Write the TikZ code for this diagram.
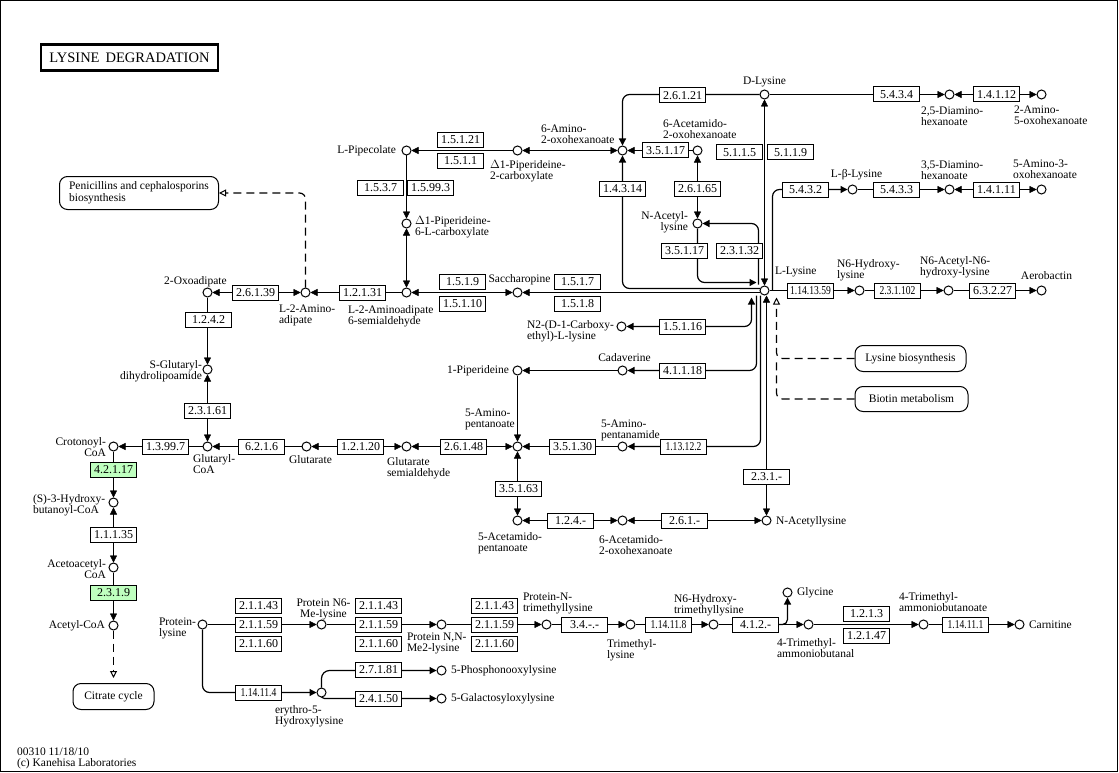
\documentclass[tikz,border=0pt]{standalone}
\usepackage{fontspec}
\setmainfont{Liberation Serif}
\usepackage{graphicx}
\usetikzlibrary{arrows.meta,calc}
\definecolor{kgreen}{HTML}{BFFFBF}
\pgfdeclarelayer{bg}
\pgfsetlayers{bg,main}
\newcommand\sq[1]{\scalebox{0.8}[1]{#1}}
\begin{document}
\begin{tikzpicture}[x=1pt,y=-1pt, line width=1pt, >={Triangle[length=7pt,width=7pt]},
 cpd/.style={circle,draw,fill=white,minimum size=9pt,inner sep=0pt},
 ec/.style={draw,fill=white,minimum width=46pt,minimum height=15pt,inner sep=0pt,font=\fontsize{12}{12}\selectfont},
 ecg/.style={ec,fill=kgreen},
 lbl/.style={inner sep=0pt,font=\fontsize{11.5}{11}\selectfont},
 mapbox/.style={draw,fill=white,rounded corners=8pt,inner sep=0pt,font=\fontsize{11.5}{12}\selectfont},
 link/.style={line width=1.2pt,dash pattern=on 8pt off 5pt, rounded corners=6pt},
 opn/.style={-{Triangle[open,length=7pt,width=7pt,line width=1pt]}},
 conn/.style={rounded corners=7pt,line width=1.2pt}]
\useasboundingbox (0,0) rectangle (1119,773);
\draw (0.5,0.5) rectangle (1117.5,771.5);
\begin{scope}[shift={(0.5,0.5)}]
\node[draw,line width=2.5pt,minimum width=177pt,minimum height=26pt,inner sep=0pt,font=\fontsize{14.5}{14}\selectfont] (title) at (129,57) {LYSINE\hspace{6pt}DEGRADATION};
% compounds
\node[cpd] (lpip) at (406,150) {};
\node[cpd] (p2c) at (517,150) {};
\node[cpd] (a2o) at (622,150) {};
\node[cpd] (ac2o) at (697,150) {};
\node[cpd] (nacl) at (697,223) {};
\node[cpd] (dlys) at (764,94) {};
\node[cpd] (dah25) at (949,94) {};
\node[cpd] (ao25) at (1041,94) {};
\node[cpd] (blys) at (852,189) {};
\node[cpd] (dah35) at (949,189) {};
\node[cpd] (ao53) at (1041,189) {};
\node[cpd] (p6c) at (406,223) {};
\node[cpd] (oxo) at (207,292) {};
\node[cpd] (l2a) at (305,292) {};
\node[cpd] (l2as) at (406,292) {};
\node[cpd] (sac) at (517,292) {};
\node[cpd] (llys) at (764,290) {};
\node[cpd] (n6h) at (859,290) {};
\node[cpd] (n6a) at (948,290) {};
\node[cpd] (aer) at (1041,290) {};
\node[cpd] (n2c) at (621,326) {};
\node[cpd] (pip1) at (517,370) {};
\node[cpd] (cad) at (622,370) {};
\node[cpd] (sgd) at (207,369) {};
\node[cpd] (glc) at (207,446) {};
\node[cpd] (cro) at (113,446) {};
\node[cpd] (glt) at (306,446) {};
\node[cpd] (gsa) at (406,446) {};
\node[cpd] (apn) at (517,446) {};
\node[cpd] (apm) at (622,446) {};
\node[cpd] (acp) at (517,520) {};
\node[cpd] (ac2ob) at (622,520) {};
\node[cpd] (nacly) at (766,520) {};
\node[cpd] (hbc) at (113,502) {};
\node[cpd] (aac) at (113,567) {};
\node[cpd] (acoa) at (113,625) {};
\node[cpd] (plys) at (202,624) {};
\node[cpd] (pn6) at (321,624) {};
\node[cpd] (pnn) at (441,624) {};
\node[cpd] (pnt) at (546,624) {};
\node[cpd] (tml) at (630,624) {};
\node[cpd] (n6ht) at (713,624) {};
\node[cpd] (gly) at (787,592) {};
\node[cpd] (tmab) at (808,624) {};
\node[cpd] (tmabo) at (923,624) {};
\node[cpd] (car) at (1019,624) {};
\node[cpd] (ery) at (321,692) {};
\node[cpd] (phos) at (441,670) {};
\node[cpd] (gal) at (441,698) {};
% free ends
\coordinate (c1517) at (759.5,292);
\coordinate (c1312) at (760,295);
\coordinate (c1516) at (751,297);
\coordinate (c4118) at (756,295);
\coordinate (c2313) at (766,295);
\coordinate (c5432) at (772,290);
\coordinate (c14314) at (759.5,288);
\coordinate (c23132) at (758,284);
\coordinate (c35117) at (756,282);
\coordinate (clb) at (776,297);
\coordinate (clb2) at (776,358);
\coordinate (cgly) at (778,624);
% enzymes
\node[ec] (e15121) at (460,139.5) {1.5.1.21};
\node[ec] (e1511) at (460,160.5) {1.5.1.1};
\node[ec] (e1537) at (380,187) {1.5.3.7};
\node[ec] (e15993) at (430,187) {1.5.99.3};
\node[ec] (e26121) at (682,95) {2.6.1.21};
\node[ec] (e35117a) at (665,150) {3.5.1.17};
\node[ec] (e14314) at (622,188) {1.4.3.14};
\node[ec] (e26165) at (697,188) {2.6.1.65};
\node[ec] (e35117b) at (684,250) {3.5.1.17};
\node[ec] (e23132) at (739,250) {2.3.1.32};
\node[ec] (e5115) at (739,152) {5.1.1.5};
\node[ec] (e5119) at (790,152) {5.1.1.9};
\node[ec] (e5434) at (896,94) {5.4.3.4};
\node[ec] (e14112) at (996,94) {1.4.1.12};
\node[ec] (e5432) at (805,189) {5.4.3.2};
\node[ec] (e5433) at (896,189) {5.4.3.3};
\node[ec] (e14111) at (996,189) {1.4.1.11};
\node[ec] (e26139) at (255,292) {2.6.1.39};
\node[ec] (e1242) at (208,319) {1.2.4.2};
\node[ec] (e12131) at (362,292) {1.2.1.31};
\node[ec] (e1519) at (462,281) {1.5.1.9};
\node[ec] (e15110) at (462,303) {1.5.1.10};
\node[ec] (e1517) at (577,281) {1.5.1.7};
\node[ec] (e1518) at (577,303) {1.5.1.8};
\node[ec] (e1141359) at (810,290) {\sq{1.14.13.59}};
\node[ec] (e231102) at (897,290) {\sq{2.3.1.102}};
\node[ec] (e63227) at (992,290) {6.3.2.27};
\node[ec] (e15116) at (682,326) {1.5.1.16};
\node[ec] (e41118) at (682,370) {4.1.1.18};
\node[ec] (e23161) at (207,410) {2.3.1.61};
\node[ec] (e13997) at (165,446) {1.3.99.7};
\node[ec] (e6216) at (261,446) {6.2.1.6};
\node[ec] (e12120) at (360,446) {1.2.1.20};
\node[ec] (e26148) at (463,446) {2.6.1.48};
\node[ec] (e35130) at (572,446) {3.5.1.30};
\node[ec] (e113122) at (683,446) {\sq{1.13.12.2}};
\node[ec] (e231x) at (766,476) {2.3.1.-};
\node[ec] (e35163) at (518,488) {3.5.1.63};
\node[ec] (e124x) at (570,520) {1.2.4.-};
\node[ec] (e261x) at (684,520) {2.6.1.-};
\node[ecg] (e42117) at (113,469) {4.2.1.17};
\node[ec] (e11135) at (113,534) {1.1.1.35};
\node[ecg] (e2319) at (113,592) {2.3.1.9};
\node[ec] (e21143a) at (258,605) {2.1.1.43};
\node[ec] (e21159a) at (258,624) {2.1.1.59};
\node[ec] (e21160a) at (258,643) {2.1.1.60};
\node[ec] (e21143b) at (378,605) {2.1.1.43};
\node[ec] (e21159b) at (378,624) {2.1.1.59};
\node[ec] (e21160b) at (378,643) {2.1.1.60};
\node[ec] (e21143c) at (494,605) {2.1.1.43};
\node[ec] (e21159c) at (494,624) {2.1.1.59};
\node[ec] (e21160c) at (494,643) {2.1.1.60};
\node[ec] (e34xx) at (584,624) {3.4.-.-};
\node[ec] (e114118) at (668,624) {\sq{1.14.11.8}};
\node[ec] (e412x) at (755,624) {4.1.2.-};
\node[ec] (e1213) at (866,613) {1.2.1.3};
\node[ec] (e12147) at (866,635) {1.2.1.47};
\node[ec] (e114111) at (965,624) {\sq{1.14.11.1}};
\node[ec] (e114114) at (258,692) {\sq{1.14.11.4}};
\node[ec] (e27181) at (378,669) {2.7.1.81};
\node[ec] (e24150) at (378,698) {2.4.1.50};
% maps
\node[mapbox,minimum width=159pt,minimum height=33pt,align=left] (mpen) at (138.5,192.5) {Penicillins and cephalosporins\\biosynthesis};
\node[mapbox,minimum width=111pt,minimum height=26pt] (mlys) at (910,358) {Lysine biosynthesis};
\node[mapbox,minimum width=113pt,minimum height=25pt] (mbio) at (911,398.5) {Biotin metabolism};
\node[mapbox,minimum width=81pt,minimum height=26pt] (mcit) at (113,696) {Citrate cycle};
% labels
\node[lbl,anchor=east] (lpipl) at (396,150) {L-Pipecolate};
\node[lbl,anchor=north west,align=left] (p2cl) at (489,159.5) {$\Delta$1-Piperideine-\\2-carboxylate};
\node[lbl,anchor=north west,align=left] (a2ol) at (540,123.5) {6-Amino-\\2-oxohexanoate};
\node[lbl,anchor=north west,align=left] (ac2ol) at (662,118.5) {6-Acetamido-\\2-oxohexanoate};
\node[lbl,anchor=north east,align=right] (nacll) at (688,210.5) {N-Acetyl-\\lysine};
\node[lbl] (dlysl) at (764,81) {D-Lysine};
\node[lbl,anchor=north west,align=left] (dah25l) at (920,105.5) {2,5-Diamino-\\hexanoate};
\node[lbl,anchor=north west,align=left] (ao25l) at (1013,104.5) {2-Amino-\\5-oxohexanoate};
\node[lbl] (blysl) at (856,174) {L-β-Lysine};
\node[lbl,anchor=north west,align=left] (dah35l) at (920,159.5) {3,5-Diamino-\\hexanoate};
\node[lbl,anchor=north west,align=left] (ao53l) at (1012,158.5) {5-Amino-3-\\oxohexanoate};
\node[lbl,anchor=north west,align=left] (p6cl) at (414,215.5) {$\Delta$1-Piperideine-\\6-L-carboxylate};
\node[lbl] (oxol) at (195,281) {2-Oxoadipate};
\node[lbl,anchor=north west,align=left] (l2al) at (278,303.5) {L-2-Amino-\\adipate};
\node[lbl,anchor=north west,align=left] (l2asl) at (347,304.5) {L-2-Aminoadipate\\6-semialdehyde};
\node[lbl] (sacl) at (519,279) {Saccharopine};
\node[lbl,anchor=west] (llysl) at (774,271) {L-Lysine};
\node[lbl,anchor=north west,align=left] (n6hl) at (836,258.5) {N6-Hydroxy-\\lysine};
\node[lbl,anchor=north west,align=left] (n6al) at (919,256) {N6-Acetyl-N6-\\hydroxy-lysine};
\node[lbl] (aerl) at (1046,275) {Aerobactin};
\node[lbl,anchor=north west,align=left] (n2cl) at (526,319.5) {N2-(D-1-Carboxy-\\ethyl)-L-lysine};
\node[lbl,anchor=east] (pip1l) at (509,370) {1-Piperideine};
\node[lbl] (cadl) at (624,357) {Cadaverine};
\node[lbl,anchor=north east,align=right] (sgdl) at (202,359.5) {S-Glutaryl-\\dihydrolipoamide};
\node[lbl,anchor=north west,align=left] (glcl) at (192,453.5) {Glutaryl-\\CoA};
\node[lbl,anchor=north east,align=right] (crol) at (106,436.5) {Crotonoyl-\\CoA};
\node[lbl] (gltl) at (310,459) {Glutarate};
\node[lbl,anchor=north west,align=left] (gsal) at (386,456.5) {Glutarate\\semialdehyde};
\node[lbl,anchor=north west,align=left] (apnl) at (464,407.5) {5-Amino-\\pentanoate};
\node[lbl,anchor=north west,align=left] (apml) at (600,418.5) {5-Amino-\\pentanamide};
\node[lbl,anchor=north west,align=left] (acpl) at (477,531.5) {5-Acetamido-\\pentanoate};
\node[lbl,anchor=north west,align=left] (ac2obl) at (598,534.5) {6-Acetamido-\\2-oxohexanoate};
\node[lbl,anchor=west] (naclyl) at (775,521) {N-Acetyllysine};
\node[lbl,anchor=north west,align=left] (hbcl) at (32,493.5) {(S)-3-Hydroxy-\\butanoyl-CoA};
\node[lbl,anchor=north east,align=right] (aacl) at (106,558.5) {Acetoacetyl-\\CoA};
\node[lbl,anchor=east] (acoal) at (105,625) {Acetyl-CoA};
\node[lbl,anchor=north west,align=left] (plysl) at (158,616.5) {Protein-\\lysine};
\node[lbl,anchor=north,align=center] (pn6l) at (323,597.5) {Protein N6-\\Me-lysine};
\node[lbl,anchor=north west,align=left] (pnnl) at (406,631.5) {Protein N,N-\\Me2-lysine};
\node[lbl,anchor=north west,align=left] (pntl) at (522,591.5) {Protein-N-\\trimethyllysine};
\node[lbl,anchor=north west,align=left] (tmll) at (606,638.5) {Trimethyl-\\lysine};
\node[lbl,anchor=north west,align=left] (n6htl) at (673,593.5) {N6-Hydroxy-\\trimethyllysine};
\node[lbl,anchor=west] (glyl) at (796,592) {Glycine};
\node[lbl,anchor=north west,align=left] (tmabl) at (776,637.5) {4-Trimethyl-\\ammoniobutanal};
\node[lbl,anchor=north west,align=left] (tmabol) at (898,591.5) {4-Trimethyl-\\ammoniobutanoate};
\node[lbl,anchor=west] (carl) at (1028,624) {Carnitine};
\node[lbl,anchor=north west,align=left] (eryl) at (274,704.5) {erythro-5-\\Hydroxylysine};
\node[lbl,anchor=west] (phosl) at (450,670) {5-Phosphonooxylysine};
\node[lbl,anchor=west] (gall) at (450,698) {5-Galactosyloxylysine};
\node[lbl,anchor=north west,align=left] (foot) at (16,746.5) {00310 11/18/10\\(c) Kanehisa Laboratories};
% connectors
\begin{pgfonlayer}{bg}
\draw[->] (p2c) -- (lpip);
\draw[<->] (p2c) -- (a2o);
\draw[->] (lpip) -- (p6c);
\draw[<->] (p6c) -- (l2as);
\draw[<->] (sac) -- (l2as);
\draw[->] (c1517) -- (sac);
\draw[->] (l2as) -- (l2a);
\draw[<->] (oxo) -- (l2a);
\draw[->] (oxo) -- (sgd);
\draw[<->] (sgd) -- (glc);
\draw[->] (glc) -- (cro);
\draw[->] (glt) -- (glc);
\draw[<->] (gsa) -- (glt);
\draw[<->] (apn) -- (gsa);
\draw[->] (apm) -- (apn);
\draw[->,conn] (c1312) |- (apm);
\draw[<->,conn] (c1516) |- (n2c);
\draw[->,conn] (c4118) |- (cad);
\draw[->] (cad) -- (pip1);
\draw[->] (pip1) -- (apn);
\draw[<->] (apn) -- (acp);
\draw[<->] (ac2ob) -- (acp);
\draw[<->] (nacly) -- (ac2ob);
\draw[<->] (c2313) -- (nacly);
\draw[->] (llys) -- (n6h);
\draw[->] (n6h) -- (n6a);
\draw[->] (n6a) -- (aer);
\draw[->,conn] (c5432) |- (blys);
\draw[->] (blys) -- (dah35);
\draw[<->] (dah35) -- (ao53);
\draw[->] (dlys) -- (dah25);
\draw[<->] (dah25) -- (ao25);
\draw[<->] (llys) -- (dlys);
\draw[->,conn] (dlys) -| (a2o);
\draw[->] (ac2o) -- (a2o);
\draw[<->] (nacl) -- (ac2o);
\draw[->,conn] (c14314) -| (a2o);
\draw[->,conn] (c23132) |- (nacl);
\draw[->,conn] (nacl) |- (c35117);
\draw[link,opn] (l2a) |- (mpen);
\draw[link,opn] (mlys) -| (clb);
\draw[link] (mbio) -| (clb2);
\draw[link,opn,shorten >=5pt] (acoa) -- (mcit);
\draw[->] (cro) -- (hbc);
\draw[<->] (hbc) -- (aac);
\draw[->] (aac) -- (acoa);
\draw[->] (plys) -- (pn6);
\draw[->] (pn6) -- (pnn);
\draw[->] (pnn) -- (pnt);
\draw[->] (pnt) -- (tml);
\draw[->] (tml) -- (n6ht);
\draw[->] (n6ht) -- (tmab);
\draw[->,conn,rounded corners=5pt] (cgly) -| (gly);
\draw[->] (tmab) -- (tmabo);
\draw[->] (tmabo) -- (car);
\draw[->,conn] (plys) |- (ery);
\draw[->,conn,rounded corners=8pt] (ery.north) |- (phos);
\draw[->,conn,rounded corners=3pt] (ery.south) |- (gal);
\end{pgfonlayer}
\end{scope}
\end{tikzpicture}
\end{document}
